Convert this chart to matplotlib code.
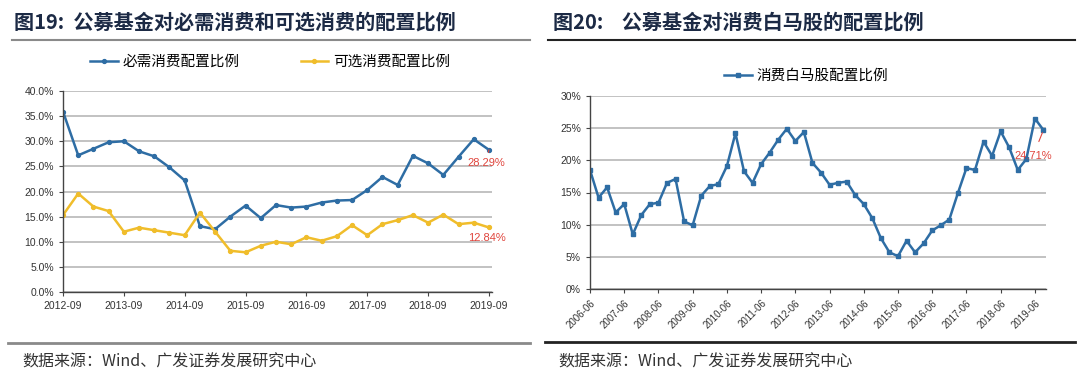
import numpy as np
import matplotlib
matplotlib.use("Agg")
import matplotlib.pyplot as plt
from matplotlib.ticker import FuncFormatter

plt.rcParams['font.family'] = ['Liberation Sans', 'Noto Sans CJK SC', 'DejaVu Sans']

# ---------------------------------------------------------------
# data: figure 19 (quarterly, 2012-09 .. 2019-09)
# ---------------------------------------------------------------
q_labels_19 = ['2012-09', '2013-09', '2014-09', '2015-09',
               '2016-09', '2017-09', '2018-09', '2019-09']
staples = [35.9, 27.2, 28.5, 29.8, 30.0, 28.0, 27.0, 24.8, 22.2,
           13.1, 12.5, 15.0, 17.2, 14.7, 17.3, 16.8, 17.0, 17.8,
           18.2, 18.3, 20.3, 22.9, 21.3, 27.1, 25.6, 23.3, 26.9,
           30.4, 28.29]
discretionary = [15.3, 19.6, 17.0, 16.1, 12.0, 12.8, 12.3, 11.8, 11.3,
                 15.8, 12.0, 8.2, 7.9, 9.2, 10.0, 9.5, 10.9, 10.2,
                 11.1, 13.3, 11.3, 13.5, 14.3, 15.3, 13.8, 15.4, 13.5,
                 13.8, 12.84]

# figure 20 (quarterly, 2006-06 .. 2019-09)
q_labels_20 = ['2006-06', '2007-06', '2008-06', '2009-06', '2010-06',
               '2011-06', '2012-06', '2013-06', '2014-06', '2015-06',
               '2016-06', '2017-06', '2018-06', '2019-06']
bluechip = [18.5, 14.2, 15.8, 11.9, 13.2, 8.5, 11.5, 13.2, 13.4,
            16.5, 17.1, 10.5, 9.9, 14.5, 16.0, 16.3, 19.1, 24.2,
            18.3, 16.5, 19.4, 21.2, 23.2, 24.9, 23.0, 24.4, 19.6,
            18.1, 16.2, 16.5, 16.7, 14.6, 13.2, 11.0, 7.9, 5.7,
            5.1, 7.5, 5.7, 7.1, 9.1, 9.9, 10.8, 14.9, 18.8,
            18.5, 22.9, 20.7, 24.5, 22.0, 18.5, 20.2, 26.5, 24.71]

BLUE = '#2e6da4'
YELLOW = '#f0bd2b'
RED = '#e0453d'
TITLE_C = '#1c2a45'
W, H = 1080, 378
CJK = ['Noto Sans CJK SC', 'DejaVu Sans']


def frac(x0, y0, x1, y1):
    # pixel box (top-left origin) -> figure fraction
    return [x0 / W, 1 - y1 / H, (x1 - x0) / W, (y1 - y0) / H]


def style_axes(ax):
    ax.grid(axis='y', color='#bdbdbd', lw=1.3)
    ax.set_axisbelow(True)
    for s in ['top', 'right']:
        ax.spines[s].set_visible(False)
    for s in ['left', 'bottom']:
        ax.spines[s].set_color('#444444')
        ax.spines[s].set_linewidth(1.0)
    ax.tick_params(axis='both', labelsize=7.5, colors='#444444',
                   length=3, width=0.8, labelcolor='#333333')


fig = plt.figure(figsize=(10.8, 3.78), dpi=100)

# ----- panel 19 -----
ax1 = fig.add_axes(frac(63, 91, 492, 292))
x1 = np.arange(len(staples))
ax1.plot(x1, staples, color=BLUE, lw=1.8, marker='o', ms=2.8, label='必需消费配置比例')
ax1.plot(x1, discretionary, color=YELLOW, lw=1.8, marker='o', ms=2.8, label='可选消费配置比例')
ax1.set_xlim(0, len(staples) - 1 + 0.2)
ax1.set_ylim(0, 40)
ax1.set_yticks(np.arange(0, 41, 5))
ax1.yaxis.set_major_formatter(FuncFormatter(lambda v, p: f'{v:.1f}%'))
ax1.set_xticks(np.arange(0, len(staples), 4))
ax1.set_xticklabels(q_labels_19)
style_axes(ax1)
ax1.annotate(f'{staples[-1]:.2f}%', xy=(x1[-1], staples[-1]), xytext=(x1[-1] - 0.2, staples[-1] - 2.6),
             ha='center', va='center', color=RED, fontsize=8,
             arrowprops=dict(arrowstyle='-', color=RED, lw=0.8))
ax1.text(x1[-1] - 0.1, discretionary[-1] - 2.0, f'{discretionary[-1]:.2f}%',
         ha='center', va='center', color=RED, fontsize=8)
ax1.legend(loc='center', bbox_to_anchor=(270 / W, 1 - 62 / H),
           bbox_transform=fig.transFigure, ncol=2, frameon=False,
           handlelength=1.9, handletextpad=0.3, columnspacing=4.2,
           prop={'family': CJK, 'size': 10.5})

# ----- panel 20 -----
ax2 = fig.add_axes(frac(590, 96, 1046, 289))
x2 = np.arange(len(bluechip))
ax2.plot(x2, bluechip, color=BLUE, lw=1.8, marker='s', ms=2.5, label='消费白马股配置比例')
ax2.set_xlim(0, len(bluechip) - 1 + 0.3)
ax2.set_ylim(0, 30)
ax2.set_yticks(np.arange(0, 31, 5))
ax2.yaxis.set_major_formatter(FuncFormatter(lambda v, p: f'{v:.0f}%'))
ax2.set_xticks(np.arange(0, len(bluechip), 4))
ax2.set_xticklabels(q_labels_20, rotation=45, ha='right', rotation_mode='anchor', fontsize=7)
style_axes(ax2)
ax2.tick_params(axis='x', labelsize=7)
ax2.annotate(f'{bluechip[-1]:.2f}%', xy=(x2[-1], bluechip[-1]), xytext=(x2[-1] - 1.2, bluechip[-1] - 4.0),
             ha='center', va='center', color=RED, fontsize=8,
             arrowprops=dict(arrowstyle='-', color=RED, lw=0.8, shrinkA=5))
ax2.legend(loc='center', bbox_to_anchor=(806 / W, 1 - 76 / H),
           bbox_transform=fig.transFigure, frameon=False,
           handlelength=1.9, handletextpad=0.3,
           prop={'family': CJK, 'size': 10.5})

# ----- titles, rules and sources -----
fig.text(14 / W, 1 - 22 / H, '图19:  公募基金对必需消费和可选消费的配置比例',
         fontsize=14.5, fontweight='bold', color=TITLE_C, va='center', family=CJK)
fig.text(553 / W, 1 - 22 / H, '图20:    公募基金对消费白马股的配置比例',
         fontsize=14.5, fontweight='bold', color=TITLE_C, va='center', family=CJK)
fig.add_artist(plt.Line2D([12 / W, 530 / W], [1 - 40 / H] * 2, color='#8a8a8a', lw=1.5))
fig.add_artist(plt.Line2D([548 / W, 1075 / W], [1 - 40 / H] * 2, color='#222222', lw=1.5))
fig.add_artist(plt.Line2D([8 / W, 530 / W], [1 - 343 / H] * 2, color='#8a8a8a', lw=2.0))
fig.add_artist(plt.Line2D([545 / W, 1075 / W], [1 - 342 / H] * 2, color='#222222', lw=2.0))
fig.text(22 / W, 1 - 362 / H, '数据来源：Wind、广发证券发展研究中心', fontsize=11.5,
         color='#333333', va='center', family=CJK)
fig.text(558 / W, 1 - 362 / H, '数据来源：Wind、广发证券发展研究中心', fontsize=11.5,
         color='#333333', va='center', family=CJK)

fig.savefig('out.png', dpi=100)
